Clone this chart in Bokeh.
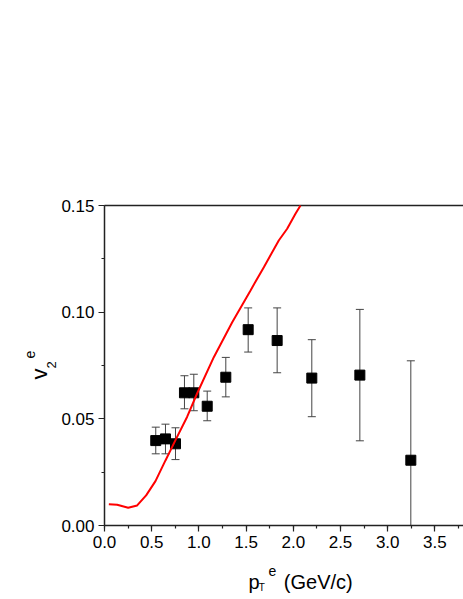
import math
from bokeh.plotting import figure
from bokeh.models import Range1d, SingleIntervalTicker, NumeralTickFormatter, Label
from bokeh.embed import file_html
from bokeh.resources import INLINE

# measured data points (v2 of electrons vs pT)
pt = [0.543, 0.646, 0.752, 0.847, 0.946, 1.088, 1.285, 1.522, 1.829, 2.196, 2.705, 3.245]
v2 = [0.0398, 0.0406, 0.0383, 0.0622, 0.0622, 0.0559, 0.0695, 0.0918, 0.0867, 0.0691, 0.0705, 0.0306]
v2_hi = [0.0461, 0.0475, 0.0458, 0.0702, 0.0709, 0.0630, 0.0788, 0.1020, 0.1020, 0.0871, 0.1013, 0.0772]
v2_lo = [0.0336, 0.0336, 0.0309, 0.0547, 0.0538, 0.0491, 0.0603, 0.0813, 0.0716, 0.0510, 0.0397, -0.0160]

# model curve
curve_pt = [0.046, 0.134, 0.251, 0.346, 0.441, 0.540, 0.646, 0.752, 0.876, 0.982,
            1.158, 1.353, 1.547, 1.688, 1.846, 1.935, 2.023, 2.076]
curve_v2 = [0.0100, 0.0097, 0.0083, 0.0094, 0.0141, 0.0208, 0.0305, 0.0400, 0.0510, 0.0620,
            0.0789, 0.0953, 0.1102, 0.1211, 0.1336, 0.1391, 0.1461, 0.1500]

X_MAX = 3.81
Y_MAX = 0.15

FONT = "Liberation Sans"
W, H = 463, 599
# plot area in page pixels
FL, FR, FT, FB = 104, 463, 205, 525
kx = (FR - FL) / 3.803          # px per GeV/c
ky = (FB - FT) / Y_MAX          # px per unit v2

x0 = -FL / kx
x1 = (W - FL) / kx
y0 = -(H - FB) / ky
y1 = FB / ky

p = figure(width=W, height=H, output_backend="svg", toolbar_location=None,
           x_range=Range1d(x0, x1), y_range=Range1d(y0, y1),
           min_border_left=0, min_border_right=0, min_border_top=0, min_border_bottom=0)
p.outline_line_color = None
p.grid.visible = False
p.background_fill_color = "white"
p.border_fill_color = "white"

p.xaxis.ticker = SingleIntervalTicker(interval=0.5, num_minor_ticks=2)
p.yaxis.ticker = SingleIntervalTicker(interval=0.05, num_minor_ticks=2)
p.xaxis.formatter = NumeralTickFormatter(format="0.0")
p.yaxis.formatter = NumeralTickFormatter(format="0.00")
p.xaxis.fixed_location = 0
p.yaxis.fixed_location = 0
p.xaxis.bounds = (0, X_MAX)
p.yaxis.bounds = (0, Y_MAX + 1e-6)
for ax in (p.xaxis, p.yaxis):
    ax.axis_line_width = 1.5
    ax.axis_line_color = "#222222"
    ax.major_tick_line_color = "#222222"
    ax.minor_tick_line_color = "#222222"
    ax.major_tick_line_width = 1.2
    ax.minor_tick_line_width = 1.2
    ax.major_tick_out = 6
    ax.major_tick_in = 0
    ax.minor_tick_out = 3
    ax.minor_tick_in = 0
    ax.major_label_text_font = FONT
    ax.major_label_text_font_size = "17px"
    ax.major_label_text_color = "black"
    ax.major_label_standoff = 4

# top frame line
p.segment(x0=[0], y0=[Y_MAX], x1=[X_MAX], y1=[Y_MAX], line_color="#222222", line_width=1.5)

# error bars (the plot area ends at v2 = 0)
lo_vis = [max(v, 0.0) for v in v2_lo]
cap_x = [x for x, v in zip(pt, v2_lo) if v >= 0]
cap_y = [v for v in v2_lo if v >= 0]
p.segment(x0=pt, y0=lo_vis, x1=pt, y1=v2_hi, line_color="#444444", line_width=1)
p.scatter(pt, v2_hi, marker="dash", size=8, line_color="#444444", line_width=1)
p.scatter(cap_x, cap_y, marker="dash", size=8, line_color="#444444", line_width=1)
p.scatter(pt, v2, marker="square", size=10, fill_color="black", line_color="black")

p.line(curve_pt, curve_v2, line_color="red", line_width=2)

# axis titles (pieces for sub/superscripts)
def dx(px):
    return (px - FL) / kx
def dy(py):
    return (FB - py) / ky

def lab(px, py, text, size, angle=0.0):
    p.add_layout(Label(x=dx(px), y=dy(py), text=text, angle=angle, text_font=FONT,
                       text_font_size=size, text_align="left", text_baseline="alphabetic",
                       text_color="black"))

half_pi = math.pi / 2
lab(39, 379, "v", "22px", half_pi)
lab(50.7, 368, "2", "13px", half_pi)
lab(29.3, 358, "e", "14px", half_pi)

lab(248, 581, "p", "20px")
lab(258.3, 587, "T", "10px")
lab(268, 570, "e", "14px")
lab(283.3, 581, "(GeV/c)", "20px")

open("out.html", "w").write(file_html(p, INLINE))
